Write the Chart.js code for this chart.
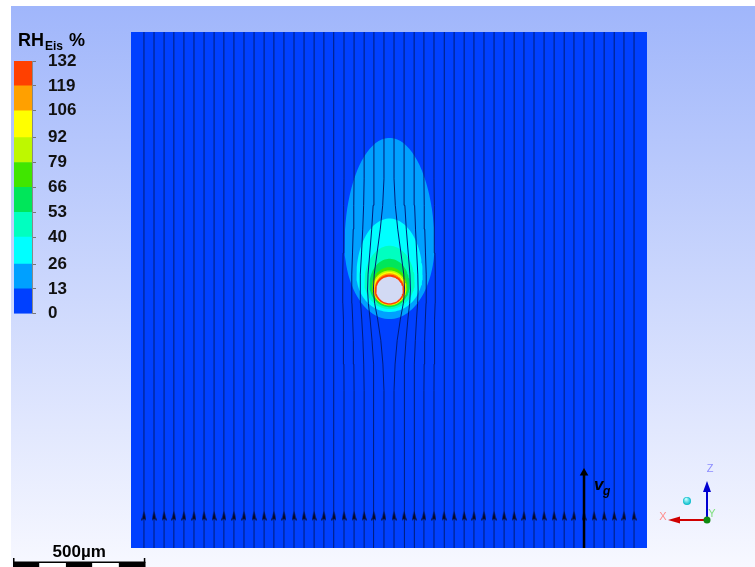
<!DOCTYPE html>
<html lang="de">
<head>
<meta charset="UTF-8">
<title>RH Eis um einen Tropfen</title>
<script src="https://cdn.jsdelivr.net/npm/chart.js@4.4.1/dist/chart.umd.min.js"></script>
<style>
  body { margin: 0; background: #fff; width: 755px; height: 567px; overflow: hidden; position: relative; }
  #bg { position: absolute; left: 11px; top: 6px; right: 0; bottom: 0; background: linear-gradient(#a0b6fb, #f7f8ff); }
  canvas { position: absolute; left: 0; top: 0; }
</style>
</head>
<body>
<div id="bg"></div>
<canvas id="field" width="755" height="567"></canvas>
<canvas id="colorbar" width="130" height="336"></canvas>

<script>
// Domain in µm (square), droplet in the middle
const domainSize = 1950;
const dropletX = 977;
const dropletY = 975;
const dropletRadius = 50;

// RH_Eis legend levels and band colours
const levels = [0, 13, 26, 40, 53, 66, 79, 92, 106, 119, 132];
const levelColors = ['#0040ff', '#00a0ff', '#00ffff', '#00ffc0', '#00e65a',
                     '#40e600', '#bef800', '#ffff00', '#ffa000', '#ff4000'];

// Contour bands around the droplet, outer -> inner (µm relative to droplet centre)
const bandColorIndex = [1, 2, 3, 4, 5, 6, 7, 8, 9];
const bandTop     = [575, 270, 167, 118, 86, 74, 68, 63, 58];
const bandBottom  = [110, 83, 72, 65, 61, 59, 57, 56, 55];
const bandHalfW   = [170, 125, 95, 76, 68, 64, 61, 58, 56];
const bandWidestY = [170, 57, 30, 19, 11, 8, 4, 0, 0];

// Streamlines: start x (µm) and sideways bend at droplet height (µm)
const streamX = [49, 87, 125, 162, 200, 238, 276, 314, 351, 389,
                 427, 465, 503, 540, 578, 616, 654, 692, 729, 767,
                 805, 843, 881, 918, 956, 994, 1032, 1070, 1107, 1145,
                 1183, 1221, 1259, 1296, 1334, 1372, 1410, 1448, 1485, 1523,
                 1561, 1599, 1637, 1674, 1712, 1750, 1788, 1826, 1863, 1901];
const streamBend = [0, 0, 0, 0, 0, 0, 0, 0, 0, 0,
                    0, 0, 0, 0, 0, 0, 0, 0, 0, -2,
                    -5, -9, -15, -24, -40, 40, 24, 15, 9, 5,
                    2, 0, 0, 0, 0, 0, 0, 0, 0, 0,
                    0, 0, 0, 0, 0, 0, 0, 0, 0, 0];
// how the bend builds up along a streamline (y relative to droplet, share of bend)
const bendY     = [-380, -280, -190, -110, -50, 0, 60, 140, 230, 320, 420];
const bendShare = [0, 0.1, 0.3, 0.6, 0.88, 1, 0.92, 0.65, 0.35, 0.12, 0];
const arrowY = 121;

// gas velocity arrow
const vgX = 1712;
const vgTop = 283;

const FONT = "'Liberation Sans', Arial, sans-serif";

function eggPoints(i) {
  const pts = [];
  const cy = dropletY + bandWidestY[i];
  for (let a = 0; a <= 360; a += 4) {
    const t = a * Math.PI / 180;
    const s = Math.sin(t);
    const ry = s >= 0 ? bandTop[i] - bandWidestY[i] : bandBottom[i] + bandWidestY[i];
    pts.push({x: dropletX + bandHalfW[i] * Math.cos(t), y: cy + ry * s});
  }
  return pts;
}

function circlePoints(r) {
  const pts = [];
  for (let a = 0; a <= 360; a += 4) {
    const t = a * Math.PI / 180;
    pts.push({x: dropletX + r * Math.cos(t), y: dropletY + r * Math.sin(t)});
  }
  return pts;
}

function arrowHead(w, h, color) {
  const c = document.createElement('canvas');
  c.width = w; c.height = h;
  const g = c.getContext('2d');
  g.fillStyle = color;
  g.beginPath();
  g.moveTo(w / 2, 0);
  g.lineTo(w, h);
  g.lineTo(w / 2, h * 0.75);
  g.lineTo(0, h);
  g.closePath();
  g.fill();
  return c;
}

const datasets = [];

// contour bands
bandColorIndex.forEach((ci, i) => {
  datasets.push({
    data: eggPoints(i),
    borderWidth: 0,
    backgroundColor: levelColors[ci],
    fill: 'shape',
    order: 100 - i
  });
});

// streamlines
streamX.forEach((x, i) => {
  const b = streamBend[i];
  let pts;
  if (b === 0) {
    pts = [{x: x, y: 0}, {x: x, y: domainSize}];
  } else {
    pts = [{x: x, y: 0}];
    bendY.forEach((dy, k) => pts.push({x: x + b * bendShare[k], y: dropletY + dy}));
    pts.push({x: x, y: domainSize});
  }
  datasets.push({
    data: pts,
    borderColor: '#001c78',
    borderWidth: 1,
    tension: 0,
    fill: false,
    order: 50
  });
});

// droplet
datasets.push({
  data: circlePoints(dropletRadius),
  borderWidth: 0,
  backgroundColor: '#d2daf4',
  fill: 'shape',
  order: 40
});

// arrowheads on streamlines
datasets.push({
  data: streamX.map(x => ({x: x, y: arrowY})),
  showLine: false,
  pointStyle: arrowHead(5, 10, '#0a0a20'),
  pointRadius: 4,
  order: 10
});

// v_g arrow
datasets.push({
  data: [{x: vgX, y: 0}, {x: vgX, y: vgTop}],
  borderColor: '#000',
  borderWidth: 2.5,
  fill: false,
  order: 6
});
datasets.push({
  data: [{x: vgX, y: vgTop}],
  showLine: false,
  pointStyle: 'triangle',
  pointRadius: 5,
  backgroundColor: '#000',
  borderColor: '#000',
  borderWidth: 0,
  order: 5
});

const fieldDecor = {
  id: 'fieldDecor',
  beforeDraw(chart) {
    const {ctx, chartArea: a} = chart;
    ctx.save();
    ctx.fillStyle = levelColors[0];
    ctx.fillRect(a.left, a.top, a.right - a.left, a.bottom - a.top);
    ctx.restore();
  },
  afterDraw(chart) {
    const ctx = chart.ctx;
    const xs = chart.scales.x, ys = chart.scales.y;
    ctx.save();

    // v_g label
    const lx = xs.getPixelForValue(vgX) + 10;
    const ly = ys.getPixelForValue(vgTop) + 17;
    ctx.fillStyle = '#000';
    ctx.textBaseline = 'alphabetic';
    ctx.font = 'italic bold 17px ' + FONT;
    ctx.fillText('v', lx, ly);
    ctx.font = 'italic bold 12px ' + FONT;
    ctx.fillText('g', lx + 9, ly + 5);

    // scale bar: 500 µm
    const len = xs.getPixelForValue(500) - xs.getPixelForValue(0);
    const x0 = 13, yb = 562;
    ctx.font = 'bold 17px ' + FONT;
    ctx.textAlign = 'center';
    ctx.fillText('500\u00b5m', x0 + len / 2, 557);
    const seg = len / 5;
    for (let k = 0; k < 5; k++) {
      ctx.fillStyle = k % 2 === 0 ? '#000' : '#fff';
      ctx.fillRect(x0 + k * seg, yb, seg, 5);
    }
    ctx.fillStyle = '#000';
    ctx.fillRect(x0, yb - 0.5, len, 1.5);
    ctx.fillRect(x0, 558, 1.5, 9);
    ctx.fillRect(x0 + len - 1.5, 558, 1.5, 9);

    // orientation triad
    const ox = 707, oy = 520;
    ctx.lineWidth = 2;
    ctx.strokeStyle = '#0000d0'; ctx.fillStyle = '#0000d0';
    ctx.beginPath(); ctx.moveTo(ox, oy); ctx.lineTo(ox, 490); ctx.stroke();
    ctx.beginPath(); ctx.moveTo(ox, 481); ctx.lineTo(ox + 4, 492); ctx.lineTo(ox - 4, 492); ctx.closePath(); ctx.fill();
    ctx.strokeStyle = '#d00000'; ctx.fillStyle = '#d00000';
    ctx.beginPath(); ctx.moveTo(ox, oy); ctx.lineTo(678, oy); ctx.stroke();
    ctx.beginPath(); ctx.moveTo(668, oy); ctx.lineTo(680, oy - 3.5); ctx.lineTo(680, oy + 3.5); ctx.closePath(); ctx.fill();
    ctx.fillStyle = '#108a10';
    ctx.beginPath(); ctx.arc(ox, oy, 3.5, 0, Math.PI * 2); ctx.fill();
    const grad = ctx.createRadialGradient(686, 499, 0.5, 687, 501, 4);
    grad.addColorStop(0, '#c0ffff'); grad.addColorStop(1, '#00b8c8');
    ctx.fillStyle = grad;
    ctx.beginPath(); ctx.arc(687, 501, 4, 0, Math.PI * 2); ctx.fill();
    ctx.font = '11px ' + FONT;
    ctx.fillStyle = '#8c8cff'; ctx.fillText('Z', 710, 472);
    ctx.fillStyle = '#ff8c8c'; ctx.fillText('X', 663, 520);
    ctx.fillStyle = '#80e080'; ctx.fillText('Y', 712, 517);
    ctx.restore();
  }
};

new Chart(document.getElementById('field'), {
  type: 'line',
  data: {datasets: datasets},
  options: {
    responsive: false,
    animation: false,
    events: [],
    layout: {padding: {left: 131, top: 32, right: 108, bottom: 19}},
    scales: {
      x: {type: 'linear', min: 0, max: domainSize, display: false},
      y: {type: 'linear', min: 0, max: domainSize, display: false}
    },
    elements: {point: {radius: 0}},
    plugins: {legend: {display: false}, tooltip: {enabled: false}}
  },
  plugins: [fieldDecor]
});

// colour bar
const barTitle = {
  id: 'barTitle',
  afterDraw(chart) {
    const ctx = chart.ctx;
    ctx.save();
    ctx.fillStyle = '#000';
    ctx.font = 'bold 18px ' + FONT;
    ctx.fillText('RH', 18, 46);
    ctx.font = 'bold 12px ' + FONT;
    ctx.fillText('Eis', 45, 50);
    ctx.font = 'bold 18px ' + FONT;
    ctx.fillText('%', 69, 46);
    ctx.restore();
  }
};

new Chart(document.getElementById('colorbar'), {
  type: 'bar',
  data: {
    labels: [''],
    datasets: levelColors.map((c, i) => ({
      data: [[levels[i], levels[i + 1]]],
      backgroundColor: c,
      borderWidth: 0,
      barPercentage: 1,
      categoryPercentage: 1,
      grouped: false
    }))
  },
  options: {
    responsive: false,
    animation: false,
    events: [],
    layout: {padding: {left: 14, top: 61, right: 38, bottom: 0}},
    scales: {
      x: {display: false},
      y: {
        position: 'right',
        min: 0, max: 132,
        afterBuildTicks: s => { s.ticks = levels.map(v => ({value: v})); },
        afterFit: s => { s.width = 60; },
        ticks: {autoSkip: false, padding: 12, color: '#111', font: {family: FONT, size: 17, weight: 'bold'}},
        grid: {drawOnChartArea: false, tickLength: 4, color: '#777'},
        border: {color: '#888'}
      }
    },
    plugins: {legend: {display: false}, tooltip: {enabled: false}}
  },
  plugins: [barTitle]
});
</script>
</body>
</html>
